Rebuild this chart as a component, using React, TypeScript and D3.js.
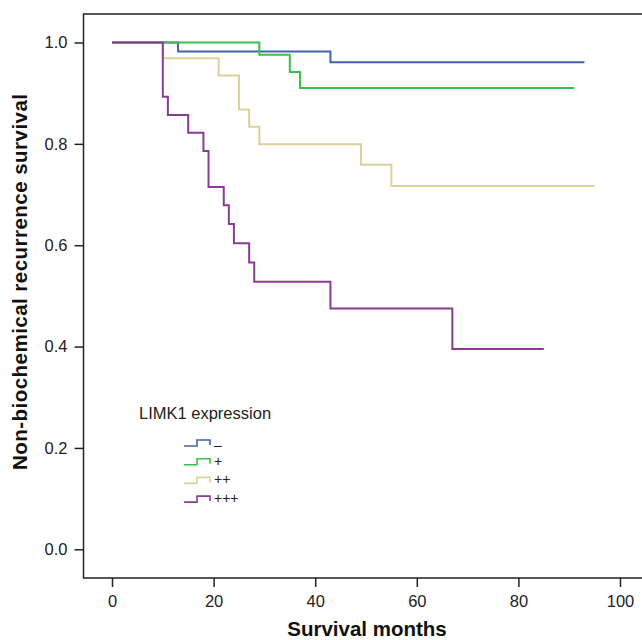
import React, { useEffect, useRef } from 'react';
import * as d3 from 'd3';

// Kaplan-Meier steps (months, survival)
const groups = ['–', '+', '++', '+++'];
const colors = ['#4560b0', '#3dbf4b', '#d8d29c', '#8a3c94'];

const negTimes = [0, 13, 43, 93];
const negSurv = [1, 0.982, 0.961, 0.961];
const plusTimes = [0, 29, 35, 37, 91];
const plusSurv = [1, 0.976, 0.942, 0.91, 0.91];
const plus2Times = [0, 10, 21, 25, 27, 29, 49, 55, 95];
const plus2Surv = [1, 0.969, 0.935, 0.868, 0.834, 0.799, 0.759, 0.717, 0.717];
const plus3Times = [0, 10, 11, 15, 18, 19, 22, 23, 24, 27, 28, 43, 67, 85];
const plus3Surv = [1, 0.893, 0.857, 0.822, 0.786, 0.715, 0.679, 0.642, 0.604, 0.566, 0.528, 0.475, 0.395, 0.395];

const xTicks = [0, 20, 40, 60, 80, 100];
const yTicks = [0, 0.2, 0.4, 0.6, 0.8, 1.0];

const W = 642;
const H = 640;

const App = () => {
  const ref = useRef(null);

  useEffect(() => {
    const svg = d3.select(ref.current);
    svg.selectAll('*').remove();

    const font = '"Liberation Sans", Arial, sans-serif';
    const left = 83.5, top = 14, bottom = 578;

    const x = d3.scaleLinear().domain([0, 100]).range([112, 620]);
    const y = d3.scaleLinear().domain([0, 1]).range([549.3, 42.5]);

    // frame
    svg.append('path')
      .attr('d', `M${W},${top}H${left}V${bottom}H${W}`)
      .attr('fill', 'none')
      .attr('stroke', '#222')
      .attr('stroke-width', 1.5);

    // y axis
    const ya = svg.append('g')
      .attr('transform', `translate(${left},0)`)
      .call(d3.axisLeft(y).tickValues(yTicks).tickFormat(d3.format('.1f')).tickSize(9).tickPadding(7));
    ya.select('.domain').remove();
    ya.selectAll('line').attr('stroke', '#222').attr('stroke-width', 1.5);
    ya.selectAll('text').attr('font-family', font).attr('font-size', 16.5).attr('fill', '#222');

    // x axis
    const xa = svg.append('g')
      .attr('transform', `translate(0,${bottom})`)
      .call(d3.axisBottom(x).tickValues(xTicks).tickSize(9).tickPadding(8));
    xa.select('.domain').remove();
    xa.selectAll('line').attr('stroke', '#222').attr('stroke-width', 1.5);
    xa.selectAll('text').attr('font-family', font).attr('font-size', 16.5).attr('fill', '#222');

    // axis titles
    svg.append('text')
      .attr('x', 367).attr('y', 636)
      .attr('text-anchor', 'middle')
      .attr('font-family', font).attr('font-weight', 'bold').attr('font-size', 20.5)
      .attr('fill', '#111')
      .text('Survival months');

    svg.append('text')
      .attr('transform', `translate(27,282) rotate(-90)`)
      .attr('text-anchor', 'middle')
      .attr('font-family', font).attr('font-weight', 'bold').attr('font-size', 20.5)
      .attr('textLength', 376).attr('lengthAdjust', 'spacing')
      .attr('fill', '#111')
      .text('Non-biochemical recurrence survival');

    // curves
    const series = [
      negTimes.map((t, i) => [t, negSurv[i]]),
      plus2Times.map((t, i) => [t, plus2Surv[i]]),
      plusTimes.map((t, i) => [t, plusSurv[i]]),
      plus3Times.map((t, i) => [t, plus3Surv[i]]),
    ];
    const seriesColors = [colors[0], colors[2], colors[1], colors[3]];
    const line = d3.line().x((d) => x(d[0])).y((d) => y(d[1])).curve(d3.curveStepAfter);

    series.forEach((s, i) => {
      svg.append('path')
        .attr('d', line(s))
        .attr('fill', 'none')
        .attr('stroke', seriesColors[i])
        .attr('stroke-width', 2);
    });

    // legend
    svg.append('text')
      .attr('x', 139).attr('y', 419)
      .attr('font-family', font).attr('font-size', 16.5).attr('fill', '#222')
      .text('LIMK1 expression');

    groups.forEach((g, i) => {
      const yb = 446 + i * 18.7;
      svg.append('path')
        .attr('d', `M184,${yb}H197V${yb - 6}H210V${yb - 1}`)
        .attr('fill', 'none')
        .attr('stroke', colors[i])
        .attr('stroke-width', 1.6);
      svg.append('text')
        .attr('x', 214).attr('y', yb + (i === 0 ? 4 : 1))
        .attr('font-family', font).attr('font-size', 14).attr('fill', '#222')
        .text(g);
    });
  }, []);

  return <svg ref={ref} width={W} height={H} style={{ position: 'absolute', left: 0, top: 0, background: '#fff' }} />;
};

export default App;
